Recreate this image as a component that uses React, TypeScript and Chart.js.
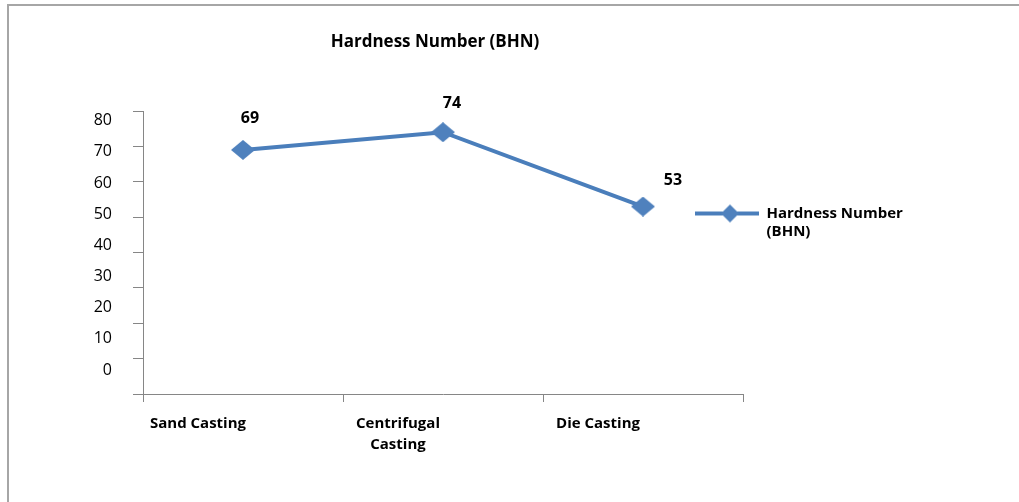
import React, { useEffect, useRef } from 'react';
import { Chart, registerables } from 'chart.js';

Chart.register(...registerables);

// ---- data ----
const categories: (string | string[])[] = ['Sand Casting', ['Centrifugal', 'Casting'], 'Die Casting'];
const hardness: number[] = [69, 74, 53];
const seriesLabel = 'Hardness Number (BHN)';
const legendLines: string[] = ['Hardness Number', '(BHN)'];
const chartTitle = 'Hardness Number (BHN)';
const yMin = 0;
const yMax = 80;
const yStep = 10;

// ---- styles ----
const LINE_BLUE = '#4a7ebb';
const MARK_BLUE = '#4f81bd';
const AXIS_GREY = '#868686';
const FRAME_GREY = '#a6a6a6';
const FONT = '"Open Sans", Lato, sans-serif';
const valueLabelDx = [7, 9, 30];
const valueLabelDy = [-31, -29, -26];

function makeDiamond(w: number, h: number, color: string): HTMLCanvasElement {
  const c = document.createElement('canvas');
  c.width = w;
  c.height = h;
  const g = c.getContext('2d')!;
  g.fillStyle = color;
  g.beginPath();
  g.moveTo(w / 2, 0);
  g.lineTo(w, h / 2);
  g.lineTo(w / 2, h);
  g.lineTo(0, h / 2);
  g.closePath();
  g.fill();
  return c;
}

function makeLegendSymbol(): HTMLCanvasElement {
  const w = 64;
  const h = 20;
  const c = document.createElement('canvas');
  c.width = w;
  c.height = h;
  const g = c.getContext('2d')!;
  g.fillStyle = LINE_BLUE;
  g.fillRect(0, h / 2 - 2, w, 4);
  g.fillStyle = MARK_BLUE;
  const cx = 35;
  const r = 9;
  g.beginPath();
  g.moveTo(cx, h / 2 - r);
  g.lineTo(cx + r, h / 2);
  g.lineTo(cx, h / 2 + r);
  g.lineTo(cx - r, h / 2);
  g.closePath();
  g.fill();
  return c;
}

const valueLabels = {
  id: 'valueLabels',
  afterDatasetsDraw(chart: any) {
    const meta = chart.getDatasetMeta(0);
    const ctx = chart.ctx as CanvasRenderingContext2D;
    ctx.save();
    ctx.font = `bold 16px ${FONT}`;
    ctx.fillStyle = '#000';
    ctx.textAlign = 'center';
    ctx.textBaseline = 'middle';
    meta.data.forEach((el: any, i: number) => {
      ctx.fillText(String(hardness[i]), el.x + valueLabelDx[i], el.y + valueLabelDy[i]);
    });
    ctx.restore();
  },
};

const blockPlacement = {
  id: 'blockPlacement',
  afterLayout(chart: any) {
    const ca = chart.chartArea;
    const lg = chart.legend;
    if (lg && ca) {
      lg.left = ca.right - 58;
      lg.width = 260;
      lg.right = lg.left + lg.width;
      lg.top = ca.top + 85;
      lg.height = 70;
      lg.bottom = lg.top + lg.height;
    }
    const tb = chart.titleBlock;
    if (tb) {
      tb.left -= 8;
      tb.right -= 8;
    }
  },
};

export default function App() {
  const ref = useRef<HTMLCanvasElement | null>(null);

  useEffect(() => {
    if (!ref.current) return;
    const diamond = makeDiamond(24, 20, MARK_BLUE);
    const legendSymbol = makeLegendSymbol();
    const chart = new Chart(ref.current, {
      type: 'line',
      data: {
        labels: categories as any,
        datasets: [
          {
            label: seriesLabel,
            data: hardness,
            borderColor: LINE_BLUE,
            backgroundColor: MARK_BLUE,
            borderWidth: 4,
            pointStyle: diamond as any,
            pointRadius: 12,
            pointHoverRadius: 12,
            tension: 0,
            clip: false as any,
          },
        ],
      },
      options: {
        animation: false,
        responsive: false,
        events: [],
        layout: { padding: { left: 0, right: 275, top: 0, bottom: 0 } },
        plugins: {
          tooltip: { enabled: false },
          title: {
            display: true,
            text: chartTitle,
            fullSize: false,
            color: '#000',
            font: { family: FONT, size: 17, weight: 'bold', lineHeight: 1.2 },
            padding: { top: 26, bottom: 58.6 },
          },
          legend: {
            display: true,
            position: 'right',
            align: 'start',
            maxWidth: 1,
            labels: {
              usePointStyle: true,
              pointStyle: legendSymbol as any,
              pointStyleWidth: 64,
              padding: 10,
              color: '#000',
              font: { family: FONT, size: 15, weight: 'bold', lineHeight: 1.2 },
              generateLabels: (c: any) => {
                const items = Chart.defaults.plugins.legend.labels.generateLabels(c);
                return items.map((it: any) => ({ ...it, text: legendLines }));
              },
            },
          },
        },
        scales: {
          x: {
            type: 'category',
            offset: true,
            grid: {
              display: true,
              drawOnChartArea: false,
              offset: true,
              tickLength: 8,
              color: AXIS_GREY,
            },
            border: { display: true, color: AXIS_GREY, width: 1 },
            ticks: {
              color: '#000',
              font: { family: FONT, size: 15, weight: 'bold', lineHeight: 1.35 },
              padding: 12,
              maxRotation: 0,
              autoSkip: false,
              labelOffset: -45,
            },
            afterFit: (s: any) => {
              s.height = 108;
            },
          },
          y: {
            position: 'left',
            weight: 0,
            min: yMin,
            max: yMax,
            ticks: { display: false, stepSize: yStep },
            grid: { display: true, drawOnChartArea: false, tickLength: 10, color: AXIS_GREY },
            border: { display: true, color: AXIS_GREY, width: 1 },
            afterFit: (s: any) => {
              s.width = 10;
            },
          },
          yl: {
            position: 'left',
            weight: 1,
            min: -7.7,
            max: 83.1,
            grid: { display: false, drawTicks: false },
            border: { display: false },
            ticks: {
              stepSize: yStep,
              includeBounds: false,
              padding: 21,
              color: '#000',
              font: { family: FONT, size: 16 },
            },
            afterFit: (s: any) => {
              s.width = 124;
            },
          },
        } as any,
      },
      plugins: [valueLabels, blockPlacement],
    });
    return () => chart.destroy();
  }, []);

  return (
    <div
      style={{
        position: 'absolute',
        left: 7,
        top: 4,
        width: 1012,
        height: 498,
        boxSizing: 'border-box',
        borderTop: `2px solid ${FRAME_GREY}`,
        borderLeft: `2px solid ${FRAME_GREY}`,
        background: '#fff',
      }}
    >
      <canvas ref={ref} width={1010} height={496} style={{ display: 'block' }} />
    </div>
  );
}
